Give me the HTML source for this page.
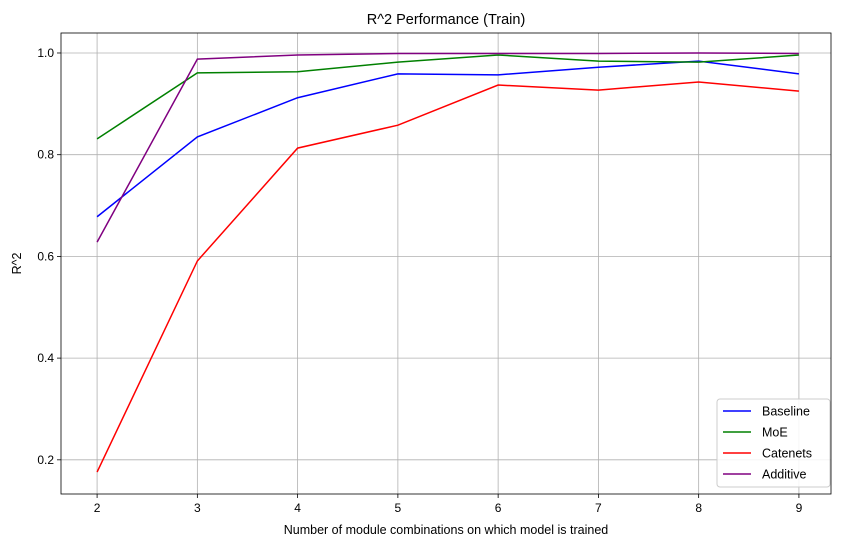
<!DOCTYPE html>
<html><head><meta charset="utf-8"><style>
body{margin:0;background:#fff;}
svg{font-family:"Liberation Sans","DejaVu Sans",sans-serif;}
</style></head><body>
<svg id="chart" width="846" height="547"></svg>
<script>
const categories=[2,3,4,5,6,7,8,9];
const baseline=[0.678,0.835,0.912,0.959,0.957,0.972,0.984,0.959];
const moe=[0.831,0.961,0.963,0.982,0.996,0.984,0.982,0.996];
const catenets=[0.176,0.591,0.813,0.858,0.937,0.927,0.943,0.925];
const additive=[0.628,0.988,0.996,0.999,0.999,0.999,1.0,0.999];
const seriesNames=["Baseline","MoE","Catenets","Additive"];
const yTicks=[0.2,0.4,0.6,0.8,1.0];
const xTicks=[2,3,4,5,6,7,8,9];

const NS="http://www.w3.org/2000/svg";
const svg=document.getElementById('chart');
const L=61,R=831,T=33,B=494;
const xMin=1.64,xMax=9.32,yMin=0.1328,yMax=1.0393;
function xs(v){return L+(v-xMin)/(xMax-xMin)*(R-L);}
function ys(v){return B-(v-yMin)/(yMax-yMin)*(B-T);}
function el(tag,attrs,parent){const e=document.createElementNS(NS,tag);for(const k in attrs)e.setAttribute(k,attrs[k]);(parent||svg).appendChild(e);return e;}

const grid=el('g',{});


xTicks.forEach(t=>{
  const x=xs(t);
  el('line',{x1:x,x2:x,y1:T,y2:B,stroke:'#b0b0b0','stroke-width':0.8},grid);
  el('line',{x1:x,x2:x,y1:B,y2:B+4,stroke:'#000','stroke-width':0.8});
  const tx=el('text',{x:x,y:B+18,'text-anchor':'middle','font-size':12});
  tx.textContent=t;
  
  
});
yTicks.forEach(t=>{
  const y=ys(t);
  el('line',{x1:L,x2:R,y1:y,y2:y,stroke:'#b0b0b0','stroke-width':0.8},grid);
  el('line',{x1:L-4,x2:L,y1:y,y2:y,stroke:'#000','stroke-width':0.8});
  const tx=el('text',{x:L-7,y:y+4,'text-anchor':'end','font-size':12});
  tx.textContent=t.toFixed(1);
  
  
});
const colors=['#0000ff','#008000','#ff0000','#800080'];
const data=[baseline,moe,catenets,additive];
data.forEach((d,i)=>{
  const p=el('polyline',{points:d.map((v,j)=>xs(categories[j])+','+ys(v)).join(' '),fill:'none',stroke:colors[i],'stroke-width':1.5});
  
  
});
el('rect',{x:L,y:T,width:R-L,height:B-T,fill:'none',stroke:'#000','stroke-width':0.8});
const title=el('text',{x:(L+R)/2,y:T-9,'text-anchor':'middle','font-size':14.5});
title.textContent='R^2 Performance (Train)';


const xt=el('text',{x:(L+R)/2,y:534,'text-anchor':'middle','font-size':12.5});
xt.textContent='Number of module combinations on which model is trained';


const yt=el('text',{x:0,y:0,'text-anchor':'middle','font-size':12.5,transform:'translate(21,'+((T+B)/2)+') rotate(-90)'});
yt.textContent='R^2';


const lg=el('g',{});


el('rect',{x:717,y:399,width:113,height:88,rx:3,fill:'#fff','fill-opacity':0.85,stroke:'#ccc'},lg);
seriesNames.forEach((n,i)=>{
  const y=411+i*21;
  const g=el('g',{},lg);
  
  
  el('line',{x1:723,x2:751,y1:y,y2:y,stroke:colors[i],'stroke-width':1.5},g);
  const t=el('text',{x:762,y:y+4.5,'font-size':12.5},g);
  t.textContent=n;
});
</script>
</body></html>
